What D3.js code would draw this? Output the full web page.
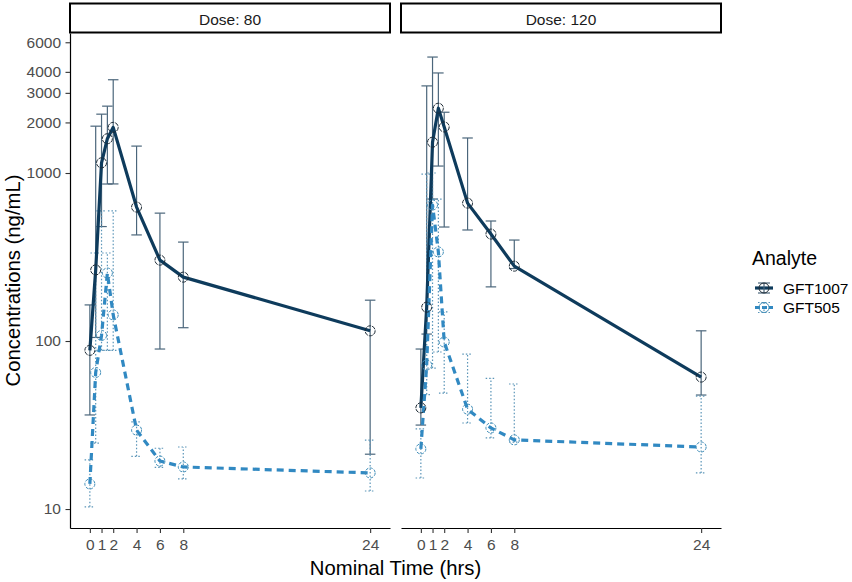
<!DOCTYPE html>
<html>
<head>
<meta charset="utf-8">
<script src="https://cdn.jsdelivr.net/npm/d3@7"></script>
<style>
  body { margin: 0; background: #fff; }
  svg { display: block; font-family: "Liberation Sans", Arial, sans-serif; }
</style>
</head>
<body>
<svg id="chart" width="852" height="582"></svg>
<script>
// ---------------- data ----------------
const times = [0, 0.5, 1, 1.5, 2, 4, 6, 8, 24];
const doses = ["80", "120"];
const analytes = ["GFT1007", "GFT505"];
const xTicks = [0, 1, 2, 4, 6, 8, 24];
const yTicks = [10, 100, 1000, 2000, 3000, 4000, 6000];

// Dose 80
const gft1007_80_mean  = [88, 265, 1150, 1600, 1870, 627, 303, 240, 115];
const gft1007_80_lower = [36.3, 105, 480, 860, 861, 428, 89.6, 120, 21.2];
const gft1007_80_upper = [164, 1900, 2240, 2500, 3590, 1446, 577, 388, 175];
const gft505_80_mean   = [14.1, 65, 108, 254, 143, 29.5, 19.3, 17.8, 16.4];
const gft505_80_lower  = [10.3, 24.7, 88, 88, 88, 20.6, 17.7, 15.1, 12.8];
const gft505_80_upper  = [19.6, 334, 595, 334, 595, 33, 23, 23.4, 25.7];

// Dose 120
const gft1007_120_mean  = [40, 159, 1525, 2430, 1880, 662, 433, 279, 61];
const gft1007_120_lower = [31.6, 110, 700, 1100, 477, 458, 210, 270, 47.7];
const gft1007_120_upper = [89.6, 3300, 4900, 3940, 2300, 1616, 518, 399, 115];
const gft505_120_mean   = [22.8, 72, 645, 339, 98.6, 39.3, 30.4, 25.8, 23.4];
const gft505_120_lower  = [15.3, 48, 69, 86, 49, 32.5, 26.5, 25, 16.4];
const gft505_120_upper  = [30, 985, 1000, 700, 149, 83.6, 60, 55.5, 47];

const panelData = {
  "80":  { GFT1007: [gft1007_80_mean, gft1007_80_lower, gft1007_80_upper],
           GFT505:  [gft505_80_mean, gft505_80_lower, gft505_80_upper] },
  "120": { GFT1007: [gft1007_120_mean, gft1007_120_lower, gft1007_120_upper],
           GFT505:  [gft505_120_mean, gft505_120_lower, gft505_120_upper] }
};

// ---------------- styles ----------------
const style = {
  GFT1007: { line: "#0e3b5c", dash: null, err: "#4b667b", errDash: null, pt: "#1d2a35" },
  GFT505:  { line: "#3189c2", dash: "7,5", err: "#5b95b8", errDash: "1.5,2", pt: "#3f8db8" }
};

const svg = d3.select("#chart");
const panelLeft = [70, 401];
const panelW = 320;
const panelTop = 33, panelBottom = 528;
const panelH = panelBottom - panelTop;

const x = d3.scaleLinear().domain([-1.7, 25.7]).range([0, panelW]);
const y = d3.scaleLog().domain([7.71, 6813]).range([panelH, 0]);
const halfW = 0.45;

doses.forEach((dose, i) => {
  const g = svg.append("g").attr("transform", `translate(${panelLeft[i]},${panelTop})`);

  // strip
  svg.append("rect")
    .attr("x", panelLeft[i]).attr("y", 3.5)
    .attr("width", panelW).attr("height", 29)
    .attr("fill", "#fff").attr("stroke", "#000").attr("stroke-width", 2);
  svg.append("text")
    .attr("x", panelLeft[i] + panelW / 2).attr("y", 19)
    .attr("text-anchor", "middle").attr("dominant-baseline", "central")
    .attr("font-size", 15.5).attr("fill", "#1a1a1a")
    .text("Dose: " + dose);

  // x axis
  const xa = g.append("g").attr("transform", `translate(0,${panelH})`)
    .call(d3.axisBottom(x).tickValues(xTicks).tickSize(5).tickSizeOuter(0).tickPadding(6));
  xa.select(".domain").attr("stroke", "#000").attr("stroke-width", 1.2);
  xa.selectAll(".tick line").attr("stroke", "#333").attr("stroke-width", 1.1);
  xa.selectAll(".tick text").attr("font-size", 15.5).attr("fill", "#4d4d4d")
    .attr("font-family", "Liberation Sans, Arial, sans-serif");

  if (i === 0) {
    const ya = g.append("g")
      .call(d3.axisLeft(y).tickValues(yTicks).tickFormat(d3.format("d")).tickSize(4.5).tickSizeOuter(0).tickPadding(4.5));
    ya.select(".domain").attr("stroke", "#000").attr("stroke-width", 1.2);
    ya.selectAll(".tick line").attr("stroke", "#333").attr("stroke-width", 1.1);
    ya.selectAll(".tick text").attr("font-size", 15.5).attr("fill", "#4d4d4d")
      .attr("font-family", "Liberation Sans, Arial, sans-serif");
  }

  analytes.forEach(an => {
    const [mean, lo, hi] = panelData[dose][an];
    const st = style[an];
    const pts = times.map((t, k) => ({ t, m: mean[k], lo: lo[k], hi: hi[k] }));
    const eg = g.append("g").attr("stroke", st.err).attr("stroke-width", 1.2)
      .attr("fill", "none");
    if (st.errDash) eg.attr("stroke-dasharray", st.errDash);
    pts.forEach(p => {
      eg.append("line").attr("x1", x(p.t)).attr("x2", x(p.t)).attr("y1", y(p.lo)).attr("y2", y(p.hi));
      eg.append("line").attr("x1", x(p.t - halfW)).attr("x2", x(p.t + halfW)).attr("y1", y(p.lo)).attr("y2", y(p.lo));
      eg.append("line").attr("x1", x(p.t - halfW)).attr("x2", x(p.t + halfW)).attr("y1", y(p.hi)).attr("y2", y(p.hi));
    });
  });

  analytes.forEach(an => {
    const [mean] = panelData[dose][an];
    const st = style[an];
    const pts = times.map((t, k) => ({ t, m: mean[k] }));
    const line = d3.line().x(d => x(d.t)).y(d => y(d.m));
    const p = g.append("path").datum(pts).attr("d", line)
      .attr("fill", "none").attr("stroke", st.line).attr("stroke-width", 3.2)
      .attr("stroke-linejoin", "round");
    if (st.dash) p.attr("stroke-dasharray", st.dash);
  });

  analytes.forEach(an => {
    const [mean] = panelData[dose][an];
    const st = style[an];
    g.append("g").selectAll("circle").data(times.map((t, k) => ({ t, m: mean[k] })))
      .join("circle")
      .attr("cx", d => x(d.t)).attr("cy", d => y(d.m)).attr("r", 5)
      .attr("fill", "none").attr("stroke", st.pt).attr("stroke-width", 1)
      .attr("stroke-dasharray", an === "GFT505" ? "3,1.5" : "4,1");
  });
});

// axis titles
svg.append("text")
  .attr("transform", `translate(13,${(panelTop + panelBottom) / 2}) rotate(-90)`)
  .attr("text-anchor", "middle").attr("dominant-baseline", "central")
  .attr("font-size", 20.3).attr("fill", "#000")
  .text("Concentrations (ng/mL)");
svg.append("text")
  .attr("x", (panelLeft[0] + panelLeft[1] + panelW) / 2).attr("y", 568)
  .attr("text-anchor", "middle").attr("dominant-baseline", "central")
  .attr("font-size", 20.3).attr("fill", "#000")
  .text("Nominal Time (hrs)");

// legend
const lg = svg.append("g").attr("transform", "translate(752,0)");
lg.append("text").attr("x", 0).attr("y", 258).attr("dominant-baseline", "central")
  .attr("font-size", 19.5).attr("fill", "#000").text("Analyte");
analytes.forEach((an, k) => {
  const st = style[an];
  const cy = 288 + k * 19.5;
  const key = lg.append("g").attr("transform", `translate(12,${cy})`);
  const hl = key.append("line").attr("x1", -9).attr("x2", 9).attr("y1", 0).attr("y2", 0)
    .attr("stroke", st.line).attr("stroke-width", 3.2);
  if (st.dash) hl.attr("stroke-dasharray", "5,2");
  const eb = key.append("g").attr("stroke", st.err).attr("stroke-width", 1.2);
  if (st.errDash) eb.attr("stroke-dasharray", st.errDash);
  eb.append("line").attr("x1", -6).attr("x2", 6).attr("y1", -5).attr("y2", -5);
  eb.append("line").attr("x1", -6).attr("x2", 6).attr("y1", 5).attr("y2", 5);
  eb.append("line").attr("x1", 0).attr("x2", 0).attr("y1", -5).attr("y2", 5);
  key.append("circle").attr("r", 5).attr("fill", "none").attr("stroke", st.pt).attr("stroke-width", 1);
  lg.append("text").attr("x", 31).attr("y", cy).attr("dominant-baseline", "central")
    .attr("font-size", 15.5).attr("fill", "#000").text(an);
});
</script>
</body>
</html>
